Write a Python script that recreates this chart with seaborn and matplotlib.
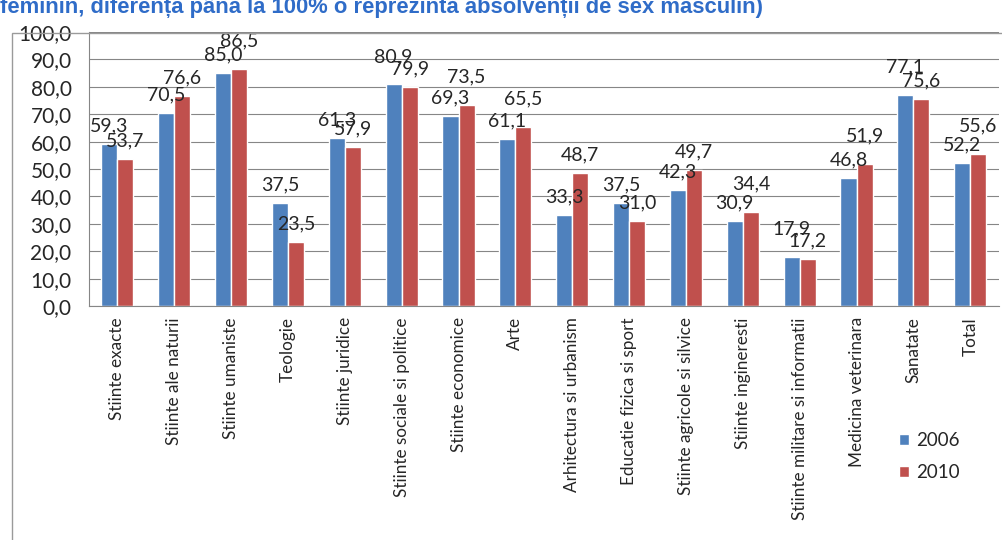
import numpy as np
import pandas as pd
import matplotlib
matplotlib.use("Agg")
import matplotlib.pyplot as plt
import seaborn as sns
from matplotlib.patches import Rectangle

# datele graficului
domenii = ['Stiinte exacte', 'Stiinte ale naturii', 'Stiinte umaniste', 'Teologie',
           'Stiinte juridice', 'Stiinte sociale si politice', 'Stiinte economice', 'Arte',
           'Arhitectura si urbanism', 'Educatie fizica si sport', 'Stiinte agricole si silvice',
           'Stiinte ingineresti', 'Stiinte militare si informatii', 'Medicina veterinara',
           'Sanatate', 'Total']
ani = ['2006', '2010']
v2006 = [59.3, 70.5, 85.0, 37.5, 61.3, 80.9, 69.3, 61.1, 33.3, 37.5, 42.3, 30.9, 17.9, 46.8, 77.1, 52.2]
v2010 = [53.7, 76.6, 86.5, 23.5, 57.9, 79.9, 73.5, 65.5, 48.7, 31.0, 49.7, 34.4, 17.2, 51.9, 75.6, 55.6]
yticks = [0, 10, 20, 30, 40, 50, 60, 70, 80, 90, 100]

df = pd.DataFrame({
    'domeniu': domenii * 2,
    'an': [ani[0]] * len(domenii) + [ani[1]] * len(domenii),
    'procent': v2006 + v2010,
})

sns.set_style('white')
plt.rcParams['font.family'] = ['Lato', 'DejaVu Sans']

fig = plt.figure(figsize=(10.03, 5.4), dpi=100)
ax = fig.add_axes([0.0887, 0.4333, 0.907, 0.5074])

sns.barplot(data=df, x='domeniu', y='procent', hue='an', order=domenii, hue_order=ani,
            palette=['#4F81BD', '#C0504D'], width=0.565, saturation=1, ax=ax)

# etichete de date: cand valorile sunt apropiate, eticheta mai mare urca putin
ca, cb = ax.containers[0], ax.containers[1]
for i, (pa, pb) in enumerate(zip(ca.patches, cb.patches)):
    a, b = pa.get_height(), pb.get_height()
    for p, v, other in [(pa, a, b), (pb, b, a)]:
        off = 9
        if v > other and abs(v - other) < 5.5 and i != 4:
            off = 16
        ax.annotate(f'{v:.1f}'.replace('.', ','), (p.get_x() + p.get_width() / 2, v),
                    xytext=(0, off), textcoords='offset points', ha='center', va='baseline',
                    fontsize=14, color='#262626')

ax.set_ylim(0, 100)
ax.set_xlim(-0.5, len(domenii) - 0.5)
ax.set_yticks(yticks)
ax.set_yticklabels([f'{t:.1f}'.replace('.', ',') for t in yticks], fontsize=15, color='#262626')
ax.set_xticks(range(len(domenii)))
ax.set_xticklabels(domenii, rotation=90, fontsize=12.3, color='#262626')
ax.set_xticks(np.arange(-0.5, len(domenii), 1), minor=True)
ax.tick_params(axis='x', which='major', length=0, pad=8)
ax.tick_params(axis='x', which='minor', length=6, color='#868686', width=0.8)
ax.tick_params(axis='y', length=5, color='#868686', width=0.8, pad=7.5)
ax.set_xlabel('')
ax.set_ylabel('')
ax.yaxis.grid(True, color='#868686', linewidth=0.8)
ax.set_axisbelow(True)
for s in ['top', 'right']:
    ax.spines[s].set_visible(False)
for s in ['left', 'bottom']:
    ax.spines[s].set_color('#868686')
    ax.spines[s].set_linewidth(0.8)

ax.legend(loc='upper left', bbox_to_anchor=(882 / 1003, 1 - 415 / 540),
          bbox_transform=fig.transFigure, frameon=False,
          fontsize=13.5, handlelength=0.55, handleheight=0.55, labelspacing=0.8,
          handletextpad=0.35)

# chenarul graficului
fig.patches.append(Rectangle((12 / 1003, -0.1), 1.2, 1 - 33 / 540 + 0.1,
                             transform=fig.transFigure, fill=False,
                             edgecolor='#9a9a9a', linewidth=1))

fig.text(0.0, 1 - 13 / 540, 'feminin, diferența până la 100% o reprezintă absolvenții de sex masculin)',
         fontsize=15.8, fontweight='bold', color='#2F6CC8', family=['Liberation Sans', 'DejaVu Sans'],
         va='baseline', ha='left')

fig.savefig('out.png', dpi=100)
